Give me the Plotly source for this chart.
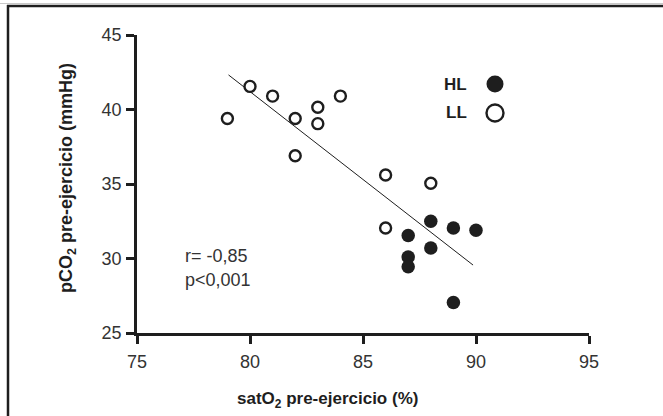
import plotly.graph_objects as go

# ---- data ----
ll_x = [79, 80, 81, 82, 82, 83, 83, 84, 86, 86, 88]
ll_y = [39.4, 41.55, 40.9, 39.4, 36.9, 40.15, 39.05, 40.9, 35.6, 32.05, 35.05]
hl_x = [87, 87, 87, 88, 88, 89, 89, 90]
hl_y = [31.55, 30.1, 29.45, 32.5, 30.7, 32.05, 27.05, 31.9]
fit_x = [79.05, 89.87]
fit_y = [42.32, 29.56]
x_ticks = [75, 80, 85, 90, 95]
y_ticks = [25, 30, 35, 40, 45]
stats_text = ["r= -0,85", "p<0,001"]
legend_labels = ["HL", "LL"]

W, H = 663, 416
L, R, T, B = 137, 589, 35, 333


def px_x(p):
    return (p - L) / (R - L)


def px_y(p):
    return (B - p) / (B - T)


FONT = "Liberation Sans, Arial"
INK = "#1e1e1e"

fig = go.Figure()
fig.add_trace(go.Scatter(x=fit_x, y=fit_y, mode="lines",
                         line=dict(color=INK, width=1), showlegend=False,
                         hoverinfo="skip"))
fig.add_trace(go.Scatter(x=ll_x, y=ll_y, mode="markers", name="LL",
                         marker=dict(size=11, color="white",
                                     line=dict(color=INK, width=2.4)),
                         showlegend=False))
fig.add_trace(go.Scatter(x=hl_x, y=hl_y, mode="markers", name="HL",
                         marker=dict(size=13.5, color=INK,
                                     line=dict(color=INK, width=0)),
                         showlegend=False))

axis_common = dict(showline=True, linecolor=INK, linewidth=2.5,
                   ticks="outside", ticklen=8, tickwidth=2.5, tickcolor=INK,
                   showgrid=False, zeroline=False,
                   tickfont=dict(family=FONT, size=18, color="#333"))

fig.update_xaxes(range=[75, 95], tickvals=x_ticks, ticklabelstandoff=3, **axis_common)
fig.update_yaxes(range=[25, 45], tickvals=y_ticks, ticklabelstandoff=1, **axis_common)

ann = []
ann.append(dict(text="<b>satO<sub>2</sub> pre-ejercicio (%)</b>", xref="paper", yref="paper",
                x=px_x(327), y=px_y(400), xanchor="center", yanchor="middle",
                showarrow=False, font=dict(family=FONT, size=17, color=INK)))
ann.append(dict(text="<b>pCO<sub>2</sub> pre-ejercicio (mmHg)</b>", xref="paper", yref="paper",
                x=px_x(67), y=px_y(178), xanchor="center", yanchor="middle",
                textangle=-90, showarrow=False,
                font=dict(family=FONT, size=18, color=INK)))
for i, t in enumerate(stats_text):
    ann.append(dict(text=t, xref="paper", yref="paper",
                    x=px_x(183), y=px_y(256 + 24 * i), xanchor="left", yanchor="middle",
                    showarrow=False,
                    font=dict(family=FONT, size=18, color="#333")))
for i, t in enumerate(legend_labels):
    ann.append(dict(text="<b>" + t + "</b>", xref="paper", yref="paper",
                    x=px_x(469), y=px_y(84 + 29 * i), xanchor="right", yanchor="middle",
                    showarrow=False,
                    font=dict(family=FONT, size=17, color=INK)))

shapes = []
# legend symbols
for i, fill in enumerate([INK, "white"]):
    shapes.append(dict(type="circle", xref="paper", yref="paper",
                       xsizemode="pixel", ysizemode="pixel",
                       xanchor=px_x(495), yanchor=px_y(84 + 29 * i),
                       x0=-8.5, x1=8.5, y0=-8.5, y1=8.5,
                       fillcolor=fill,
                       line=dict(color=INK, width=2.4 if fill == "white" else 0)))
# frame (top and left border)
shapes.append(dict(type="line", xref="paper", yref="paper",
                   x0=px_x(0), x1=px_x(W), y0=px_y(3.5), y1=px_y(3.5),
                   line=dict(color="#c8c8c8", width=1)))
shapes.append(dict(type="line", xref="paper", yref="paper",
                   x0=px_x(7), x1=px_x(W), y0=px_y(6), y1=px_y(6),
                   line=dict(color=INK, width=2.5)))
shapes.append(dict(type="line", xref="paper", yref="paper",
                   x0=px_x(8), x1=px_x(8), y0=px_y(5), y1=px_y(H),
                   line=dict(color=INK, width=2.5)))

fig.update_layout(width=W, height=H, margin=dict(l=L, r=W - R, t=T, b=H - B),
                  plot_bgcolor="white", paper_bgcolor="white",
                  annotations=ann, shapes=shapes, showlegend=False)

fig.write_html("out.html", config={"displayModeBar": False},
               post_script="document.body.style.margin='0px';")
